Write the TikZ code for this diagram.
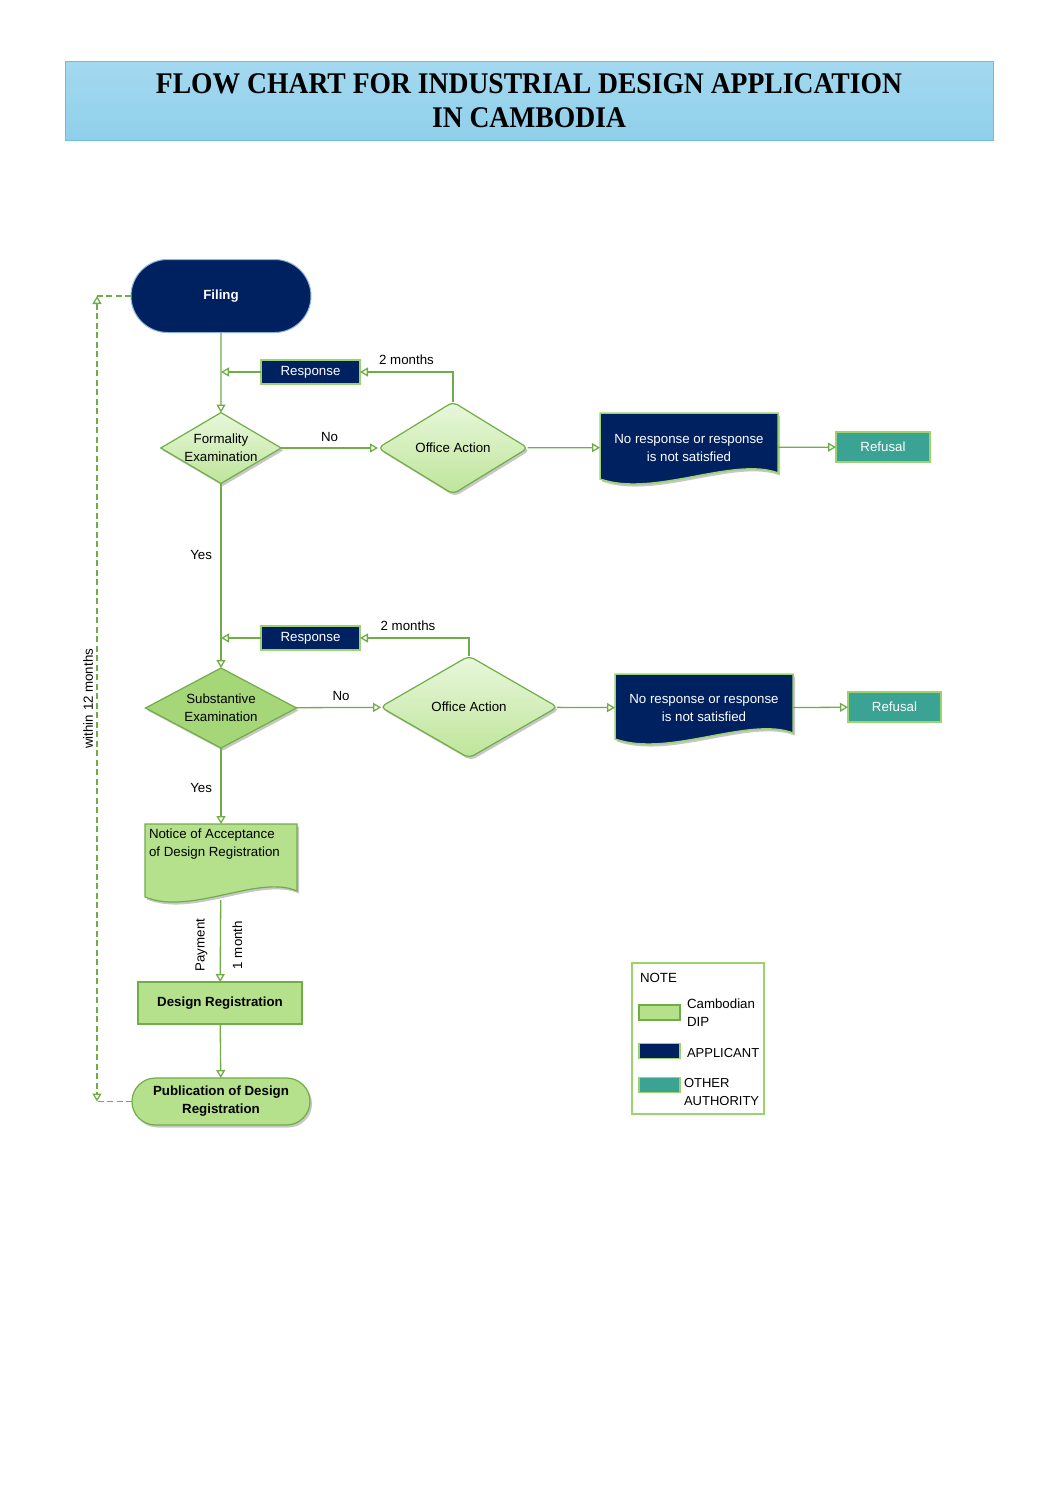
\documentclass[tikz,border=0pt]{standalone}
\usepackage{fontspec}
\setmainfont{Liberation Sans}
\newfontfamily\titlefont[FakeStretch=0.92]{Liberation Serif}
\usetikzlibrary{shapes.geometric,shapes.misc,arrows.meta,calc,shadows}
\pgfdeclarelayer{background}
\pgfsetlayers{background,main}
\definecolor{navy}{RGB}{0,33,96}
\definecolor{tealc}{RGB}{58,163,148}
\definecolor{lgreen}{RGB}{112,173,71}
\definecolor{pgreen}{RGB}{157,211,111}
\definecolor{fgreen}{RGB}{181,224,140}
\definecolor{sgreen}{RGB}{165,214,120}
\definecolor{dtop}{RGB}{232,247,220}
\definecolor{dbot}{RGB}{190,229,153}
\definecolor{ttop}{RGB}{164,217,240}
\definecolor{tbot}{RGB}{143,207,234}
\definecolor{tborder}{RGB}{108,190,224}
\definecolor{fborder}{RGB}{143,179,224}
\newcommand\wavedoc[2]{%
  \path[#2] (#1.north west) -- (#1.north east) -- ($(#1.south east)+(0,-9)$)
    .. controls ($(#1.south west)!0.75!(#1.south east)+(0,-26)$) and ($(#1.south west)!0.3!(#1.south east)+(0,16)$) .. ($(#1.south west)+(0,-3)$) -- cycle;}
\begin{document}
\begin{tikzpicture}[x=1pt,y=-1pt,
  txt/.style={font=\fontsize{13.3}{18}\selectfont, align=center, inner sep=2pt, outer sep=0pt},
  btxt/.style={font=\fontsize{13.3}{18}\selectfont\bfseries, align=center, inner sep=2pt, outer sep=0pt},
  conn/.style={draw=lgreen, line width=1.3pt},
  arr/.style={conn, -{Triangle[open,length=8pt,width=9pt]}},
  dline/.style={draw=lgreen, line width=1.3pt, dash pattern=on 6pt off 3.5pt},
  respbox/.style={txt, rectangle, fill=navy, draw=pgreen, line width=1.5pt, text=white, minimum width=99pt, minimum height=24pt},
  refbox/.style={txt, rectangle, fill=tealc, draw=pgreen, line width=1.5pt, text=white, minimum width=94pt, minimum height=30pt},
  dia/.style={txt, diamond, draw=lgreen, line width=1.2pt, inner sep=0pt, top color=dtop, bottom color=dbot},
  shad/.style={drop shadow={shadow xshift=2pt, shadow yshift=-2.5pt, opacity=0.22, fill=black}},
  navydoc/.style={fill=navy, draw=pgreen, line width=1.5pt, shad},
  greendoc/.style={fill=fgreen, draw=lgreen, line width=1.2pt, shad},
  swatch/.style={rectangle, minimum width=41pt, minimum height=15pt, inner sep=0pt, line width=1.2pt}
]
\begin{pgfonlayer}{background}
\fill[white] (0,0) rectangle (1058,1497);
\end{pgfonlayer}
\useasboundingbox (0,0) rectangle (1058,1497);

% title
\node[rectangle, minimum width=928pt, minimum height=79pt, top color=ttop, bottom color=tbot, draw=tborder, line width=1pt, align=center, inner sep=0pt,
  font=\titlefont\fontsize{30}{34}\selectfont\bfseries] (title) at (529,100.5)
  {FLOW CHART FOR INDUSTRIAL DESIGN APPLICATION\\IN CAMBODIA};

% main nodes
\node[btxt, rounded rectangle, fill=navy, draw=fborder, line width=1pt, text=white, minimum width=184pt, minimum height=73pt] (filing) at (221,296) {Filing};
\node[respbox] (resp1) at (310.5,372) {Response};
\node[dia, minimum width=120pt, minimum height=70pt, aspect=1.7, shad] (fe) at (221,448) {Formality\\Examination};
\node[dia, minimum width=150pt, minimum height=92pt, aspect=1.6, rounded corners=5pt, shad] (oa1) at (453,448) {Office Action};
\node[txt, text=white, minimum width=178pt, minimum height=69pt] (doc1) at (689,447.5) {No response or response\\is not satisfied};
\node[refbox] (ref1) at (883,447) {Refusal};

\node[respbox] (resp2) at (310.5,638) {Response};
\node[txt, diamond, draw=lgreen, line width=1.2pt, inner sep=0pt, fill=sgreen, minimum width=151pt, minimum height=80pt, aspect=1.9, shad] (se) at (221,708) {Substantive\\Examination};
\node[dia, minimum width=177pt, minimum height=102pt, aspect=1.7, rounded corners=5pt, shad] (oa2) at (469,707) {Office Action};
\node[txt, text=white, minimum width=178pt, minimum height=68pt] (doc2) at (704,708) {No response or response\\is not satisfied};
\node[refbox, minimum width=93pt] (ref2) at (894.5,707) {Refusal};

\node[txt, minimum width=152pt, minimum height=76pt, inner sep=4pt, align=left] (notice) at (221,862)
  {\parbox[c][66pt][t]{144pt}{\raggedright Notice of Acceptance\\of Design Registration}};
\node[btxt, rectangle, fill=fgreen, draw=lgreen, line width=1.2pt, minimum width=164pt, minimum height=42pt] (dr) at (220,1003) {Design Registration};
\node[btxt, rounded rectangle, fill=fgreen, draw=lgreen, line width=1.2pt, minimum width=182pt, minimum height=47pt, shad] (pub) at (221,1101.5) {Publication of Design\\Registration};

% document shapes (drawn below their text)
\begin{pgfonlayer}{background}
\wavedoc{doc1}{navydoc}
\wavedoc{doc2}{navydoc}
\wavedoc{notice}{greendoc}
\end{pgfonlayer}

% connectors
\coordinate (j1) at (221,372);
\coordinate (j2) at (221,638);
\draw[arr] (filing) -- (fe);
\draw[arr] (resp1) -- (j1);
\draw[arr] (oa1.north) |- node[txt, pos=0.75, above=5pt]{2 months} (resp1.east);
\draw[arr] (fe) -- node[txt, above=4pt]{No} (oa1);
\draw[arr] (oa1) -- (doc1);
\draw[arr] (doc1) -- (ref1);
\draw[arr] (fe) -- node[txt, pos=0.39, left=7pt]{Yes} (se);
\draw[arr] (resp2) -- (j2);
\draw[arr] (oa2.north) |- node[txt, pos=0.78, above=5pt]{2 months} (resp2.east);
\draw[arr] (se) -- node[txt, pos=0.53, above=5pt]{No} (oa2);
\draw[arr] (oa2) -- (doc2);
\draw[arr] (doc2) -- (ref2);
\draw[arr] (se) -- node[txt, pos=0.53, left=7pt]{Yes} (notice);
\draw[arr] (notice) -- node[txt, pos=0.55, rotate=90, anchor=south, inner sep=13pt]{Payment}
  node[txt, pos=0.55, rotate=90, anchor=north, inner sep=12pt]{1 month} (dr);
\draw[arr] (dr) -- (pub);

\coordinate (c1) at (97,296);
\coordinate (c2) at (97,1101.5);
\draw[dline] (filing.west) -- (c1);
\draw[dline] (pub.west) -- (c2);
\draw[dline, {Triangle[open,length=8pt,width=9pt]}-{Triangle[open,length=8pt,width=9pt]}] (c1) -- node[txt, rotate=90, anchor=south, inner sep=4pt]{within 12 months} (c2);

% legend
\node[rectangle, draw=pgreen, line width=1.4pt, minimum width=132pt, minimum height=151pt] (legend) at (698,1038.5) {};
\node[txt, anchor=west] (note) at (638,978) {NOTE};
\node[swatch, fill=fgreen, draw=lgreen] (sw1) at (659.5,1012.5) {};
\node[txt, anchor=north west, align=left] (l1) at (685,997) {Cambodian\\DIP};
\node[swatch, fill=navy, draw=pgreen] (sw2) at (659.5,1051) {};
\node[txt, anchor=west, font=\fontsize{13}{18}\selectfont] (l2) at (685,1053) {APPLICANT};
\node[swatch, fill=tealc, draw=pgreen] (sw3) at (659.5,1085) {};
\node[txt, anchor=north west, align=left, font=\fontsize{13}{18}\selectfont] (l3) at (682,1076) {OTHER\\AUTHORITY};
\end{tikzpicture}
\end{document}
